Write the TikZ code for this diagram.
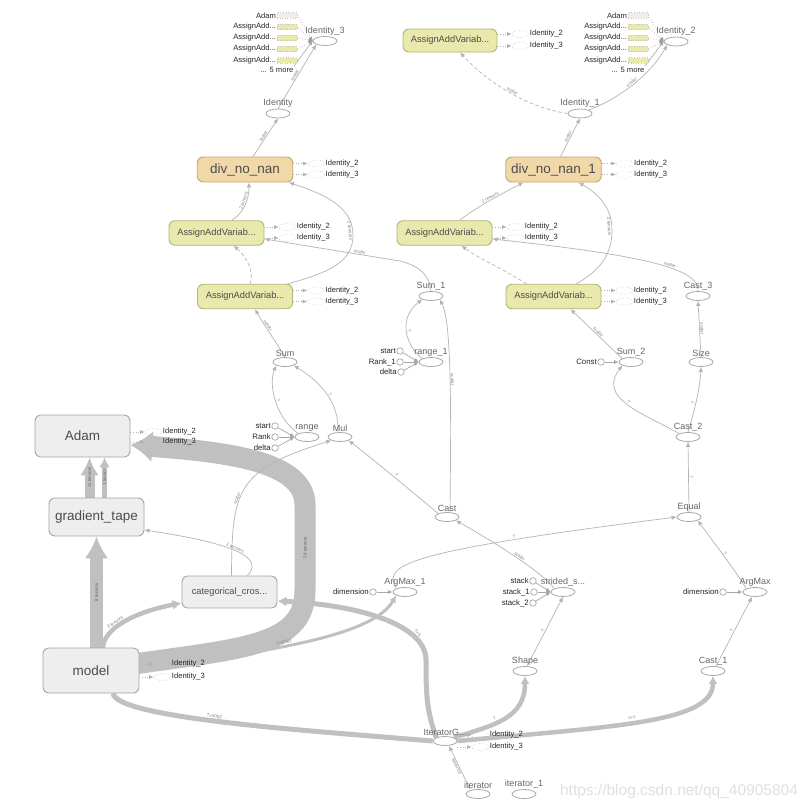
\documentclass[tikz,border=0pt]{standalone}
\usepackage{fontspec}
\setmainfont{Liberation Sans}
\usetikzlibrary{shapes.geometric,arrows.meta,backgrounds}
\definecolor{edgegray}{HTML}{B4B4B4}
\definecolor{bandgray}{HTML}{C0C0C0}
\definecolor{opline}{HTML}{A8A8A8}
\definecolor{boxfill}{HTML}{EEEEEE}
\definecolor{boxline}{HTML}{A6A6A6}
\definecolor{assignfill}{HTML}{E9E9AD}
\definecolor{assignline}{HTML}{B4B46E}
\definecolor{divfill}{HTML}{F1D8A8}
\definecolor{divline}{HTML}{C6A46E}
\definecolor{ghostline}{HTML}{C4C4C4}
\tikzset{
  op/.style={ellipse, draw=opline, fill=white, line width=0.8pt, minimum width=24pt, minimum height=9pt, inner sep=0pt, label distance=1.5pt},
  oplabel/.style={font=\fontsize{9}{10}\selectfont, text=black!60, inner sep=0.8pt},
  const/.style={circle, draw=opline, fill=white, line width=0.7pt, minimum size=6.5pt, inner sep=0pt},
  constlabel/.style={font=\fontsize{7.8}{9}\selectfont, text=black!85, inner sep=0.5pt},
  metabox/.style={draw=boxline, fill=boxfill, rounded corners=6pt, line width=0.9pt, inner sep=0pt, text=black!70},
  assignbox/.style={metabox, draw=assignline, fill=assignfill, minimum width=95pt, minimum height=24.5pt, font=\fontsize{9.3}{11}\selectfont},
  divbox/.style={metabox, draw=divline, fill=divfill, minimum width=95.5pt, minimum height=25pt, font=\fontsize{13.5}{15}\selectfont},
  bigbox/.style={metabox, minimum width=95pt, font=\fontsize{13.5}{15}\selectfont},
  ghostop/.style={ellipse, draw=ghostline, dotted, line width=0.6pt, minimum width=17pt, minimum height=7pt, inner sep=0pt, label distance=2.5pt},
  sidetext/.style={font=\fontsize{7.6}{9}\selectfont, text=black!85, inner sep=0.5pt},
  sideedge/.style={draw=ghostline!90!black, dotted, line width=0.6pt, -{Latex[length=4.5pt,width=4pt]}},
  refnode/.style={draw=ghostline, dotted, line width=0.6pt, minimum width=20pt, minimum height=5.5pt, inner sep=0pt, label distance=1pt},
  reftext/.style={font=\fontsize{7.6}{9}\selectfont, text=black!85, inner sep=0.5pt},
  refedge/.style={draw=ghostline!80!black, dotted, line width=0.6pt, -{Latex[length=4pt,width=4pt]}},
  moreedge/.style={draw=edgegray, line width=0.6pt},
  edge/.style={draw=edgegray, line width=0.7pt, -{Latex[length=5pt,width=4.5pt]}},
  ctrl/.style={edge, dash pattern=on 3.5pt off 2.5pt},
  inedge/.style={draw=opline, line width=0.7pt, -{Latex[length=4.5pt,width=4pt]}},
  band/.style={draw=bandgray, line cap=butt},
  elabel/.style={font=\fontsize{4.5}{5}\selectfont, text=black!50, sloped, above, inner sep=0.7pt},
  bandlabel/.style={font=\fontsize{4.5}{5}\selectfont, text=black!60, sloped, inner sep=0pt}
}
\begin{document}
\begin{tikzpicture}[x=1pt, y=-1pt]
\useasboundingbox (0,0) rectangle (810,809);

% operation nodes
\node[op, label={[oplabel]above:Identity\_3}] (id3) at (325,41) {};
\node[op, label={[oplabel]above:Identity}] (id) at (278,113.5) {};
\node[op, label={[oplabel]above:Identity\_2}] (id2) at (676,41.5) {};
\node[op, label={[oplabel]above:Identity\_1}] (id1) at (580,113.5) {};
\node[op, label={[oplabel]above:Sum\_1}] (sum1) at (431,296) {};
\node[op, label={[oplabel]above:range\_1}] (range1) at (431,362) {};
\node[op, label={[oplabel]above:Sum}] (sum) at (285,362) {};
\node[op, label={[oplabel]above:range}] (range) at (307,437) {};
\node[op, label={[oplabel]above:Mul}] (mul) at (340,437) {};
\node[op, label={[oplabel]above:Cast}] (cast) at (447,517) {};
\node[op, label={[oplabel]above:Sum\_2}] (sum2) at (631,362) {};
\node[op, label={[oplabel]above:Size}] (size) at (701,362) {};
\node[op, label={[oplabel]above:Cast\_3}] (cast3) at (698,296) {};
\node[op, label={[oplabel]above:Cast\_2}] (cast2) at (688,437) {};
\node[op, label={[oplabel]above:Equal}] (equal) at (689,517) {};
\node[op, label={[oplabel]above:ArgMax}] (argmax) at (755,592) {};
\node[op, label={[oplabel]above:ArgMax\_1}] (argmax1) at (405,592) {};
\node[op, label={[oplabel]above:strided\_s...}] (strided) at (563,592) {};
\node[op, label={[oplabel]above:Shape}] (shape) at (525,671) {};
\node[op, label={[oplabel]above:Cast\_1}] (cast1) at (713,671) {};
\node[op, label={[oplabel]above:IteratorG...}] (itg) at (445,741) {};
\node[op, label={[oplabel]above:iterator}] (iter) at (478,794) {};
\node[op, label={[oplabel]above:iterator\_1}] (iter1) at (524,794) {};

% constant inputs
\node[const, label={[constlabel]left:start}] (rstart) at (275,426) {};
\node[const, label={[constlabel]left:Rank}] (rrank) at (275,437) {};
\node[const, label={[constlabel]left:delta}] (rdelta) at (275,448) {};
\node[const, label={[constlabel]left:start}] (r1start) at (400,351) {};
\node[const, label={[constlabel]left:Rank\_1}] (r1rank) at (400,362) {};
\node[const, label={[constlabel]left:delta}] (r1delta) at (401,372) {};
\node[const, label={[constlabel]left:stack}] (sstack) at (533,581) {};
\node[const, label={[constlabel]left:stack\_1}] (sstack1) at (534,592) {};
\node[const, label={[constlabel]left:stack\_2}] (sstack2) at (533,603) {};
\node[const, label={[constlabel]left:Const}] (cconst) at (601,362) {};
\node[const, label={[constlabel]left:dimension}] (dim1) at (373,592) {};
\node[const, label={[constlabel]left:dimension}] (dim) at (723,592) {};

% name scopes
\node[divbox] (dnn) at (245,169.5) {div\_no\_nan};
\node[divbox] (dnn1) at (553.5,169.5) {div\_no\_nan\_1};
\node[assignbox] (aav1) at (216.5,233) {AssignAddVariab...};
\node[assignbox] (aav2) at (245,296.5) {AssignAddVariab...};
\node[assignbox] (aav3) at (444.5,233) {AssignAddVariab...};
\node[assignbox] (aav4) at (553.5,296.5) {AssignAddVariab...};
\node[assignbox, minimum height=23pt, minimum width=94pt] (aav5) at (450,40.5) {AssignAddVariab...};
\node[bigbox, minimum height=42pt] (adam) at (82.5,436) {Adam};
\node[bigbox, minimum height=38pt] (gtape) at (96.5,517) {gradient\_tape};
\node[bigbox, minimum height=45pt, minimum width=96pt] (model) at (91,670.5) {model};
\node[metabox, minimum width=95pt, minimum height=32pt, font=\fontsize{9.3}{11}\selectfont] (cce) at (229.5,592) {categorical\_cros...};

% Identity_2 / Identity_3 stubs beside the scopes
\foreach \b/\u/\v in {dnn/-6/5, dnn1/-6/5, aav1/-6/5, aav2/-6/5, aav3/-6/5, aav4/-6/5, aav5/-6.5/5.5, adam/-4/6, model/-6.5/6.5, itg/-6/6}{
  \node[ghostop, label={[sidetext]right:Identity\_2}] (\b-a) at ([shift={(23,\u)}]\b.east) {};
  \node[ghostop, label={[sidetext]right:Identity\_3}] (\b-b) at ([shift={(23,\v)}]\b.east) {};
}

% control inputs of Identity_3 and Identity_2
\foreach \c/\dx in {id3/0, id2/351}{
  \node[refnode, fill=boxfill, label={[reftext]left:Adam}] (\c-r0) at (287+\dx,15.5) {};
  \foreach \i/\y in {1/27, 2/38, 3/49, 4/60.5}
    \node[refnode, fill=assignfill, label={[reftext]left:AssignAdd...}] (\c-r\i) at (287+\dx,\y) {};
  \node[reftext, anchor=east] (\c-more) at (294+\dx,69.5) {... 5 more};
}

\node[font=\fontsize{15.5}{17}\selectfont, text=black!12] (mark) at (679,791) {https://blog.csdn.net/qq\_40905804};

\begin{scope}[on background layer]
\fill[white] (0,0) rectangle (810,809);

% heavy tensor bands
\draw[band, line width=21pt, -{Latex[length=22pt,width=32pt]}] (model.center) .. controls (230,648) and (305,652) .. (305,590) -- node[bandlabel]{24 tensors} (305,505) .. controls (305,462) and (230,452) .. ([yshift=-9]adam.east);
\draw[band, line width=13pt, -{Latex[length=22pt,width=24pt]}] ([xshift=5.5]model.north) -- node[bandlabel]{8 tensors} (gtape.south);
\draw[band, line width=10pt, -{Latex[length=18pt,width=19pt]}] ([xshift=-7]gtape.north) -- node[bandlabel]{11 tensors} ([xshift=7]adam.south);
\draw[band, line width=5pt, -{Latex[length=10pt,width=11pt]}] ([xshift=8]gtape.north) -- node[bandlabel]{1 tensor} ([xshift=22]adam.south);
\draw[band, line width=4.5pt, -{Latex[length=9pt,width=10pt]}] ([xshift=12]model.north) .. controls (104,628) and (135,612) .. node[elabel, pos=0.4]{3 tensors} ([yshift=-11]cce.west);
\draw[band, line width=3pt, -{Latex[length=7pt,width=7pt]}] (model.east) .. controls (250,652) and (370,640) .. node[elabel, pos=0.45]{?×5082} (argmax1.south west);
\draw[band, line width=5pt, -{Latex[length=9pt,width=10pt]}] (itg.north west) .. controls (426,710) and (426,690) .. (426,660) .. controls (426,625) and (360,605) .. node[elabel, pos=0.25]{?×5} ([yshift=-9]cce.east);
\draw[band, line width=5pt] (itg.west) .. controls (300,730) and (118,718) .. node[elabel, pos=0.53]{?×5082} ([xshift=22]model.south);
\draw[band, line width=4.5pt, -{Latex[length=8pt,width=9pt]}] (itg.north east) .. controls (495,725) and (525,718) .. node[elabel, pos=0.4]{?} (shape.south);
\draw[band, line width=4.5pt, -{Latex[length=8pt,width=9pt]}] (itg.east) .. controls (620,726) and (713,722) .. node[elabel, pos=0.45]{?×?} (cast1.south);

% data and control edges
\draw[edge] (id.north) -- node[elabel]{scalar} (id3.south west);
\draw[edge] ([xshift=8]dnn.north) -- node[elabel]{scalar} (id.south);
\draw[edge] ([xshift=15]aav1.north) .. controls (243,214) and (249,200) .. node[elabel, pos=0.6]{2 tensors} ([xshift=4]dnn.south);
\draw[ctrl] ([xshift=5]aav2.north) .. controls (255,272) and (246,256) .. ([xshift=17]aav1.south);
\draw[edge] ([xshift=43]aav2.north) .. controls (330,272) and (353,262) .. (353,235) .. controls (353,205) and (320,193) .. node[elabel, below, pos=0.05]{2 tensors} ([xshift=44]dnn.south);
\draw[edge] (sum1.north) .. controls (430,276) and (420,266) .. (400,261) -- node[elabel, pos=0.3]{scalar} ([yshift=-6]aav1.east);
\draw[edge] (sum.north) .. controls (278,345) and (264,325) .. node[elabel, pos=0.65]{scalar} ([xshift=10]aav2.south);
\draw[edge] (range.north west) .. controls (276,418) and (268,385) .. node[elabel]{?} (sum.south west);
\draw[edge] ([xshift=-2]mul.north) .. controls (339,405) and (325,385) .. node[elabel]{?} (sum.south east);
\draw[edge] (range1.north west) .. controls (405,345) and (398,318) .. node[elabel]{?} (sum1.south west);
\draw[edge] ([xshift=3]cast.north) .. controls (451,420) and (452,322) .. node[elabel]{scalar} (sum1.south east);
\draw[edge] (cast.north west) .. controls (410,490) and (380,465) .. node[elabel]{?} (mul.south east);
\draw[edge] ([xshift=2]cce.north) .. controls (232,490) and (236,470) .. node[elabel, pos=0.4]{scalar} (mul.south west);
\draw[edge] ([xshift=18]cce.north) .. controls (262,560) and (245,545) .. node[elabel, pos=0.55]{2 tensors} ([yshift=-13]gtape.east);
\draw[edge] (strided.north west) .. controls (545,575) and (500,545) .. node[elabel]{scalar} (cast.south east);
\draw[edge] (argmax1.north west) .. controls (383,565) and (400,552) .. node[elabel, pos=0.75]{?} (equal.west);
\draw[edge] ([xshift=2]shape.north) -- node[elabel]{?} (strided.south);
\draw[edge] ([xshift=3]cast1.north) -- node[elabel]{?} ([xshift=-3]argmax.south);
\draw[edge] (argmax.north west) .. controls (735,570) and (712,540) .. node[elabel]{?} (equal.south east);
\draw[edge] (equal.north) -- node[elabel]{?} (cast2.south);
\draw[edge] (cast2.north) .. controls (692,420) and (700,390) .. node[elabel]{?} (size.south);
\draw[edge] (cast2.north west) .. controls (640,412) and (598,398) .. node[elabel]{?} (sum2.south west);
\draw[edge] (size.north) -- node[elabel]{scalar} (cast3.south);
\draw[edge] (sum2.north west) -- node[elabel]{scalar} ([xshift=17]aav4.south);
\draw[edge] (cast3.north) .. controls (700,268) and (640,255) .. node[elabel, pos=0.4]{scalar} ([yshift=-6]aav3.east);
\draw[edge] ([xshift=15]aav3.north) .. controls (478,206) and (505,192) .. node[elabel]{2 tensors} ([xshift=-30]dnn1.south);
\draw[edge] ([xshift=23]aav4.north) .. controls (600,270) and (612,255) .. (612,230) .. controls (612,205) and (595,192) .. node[elabel, below, pos=0.05]{2 tensors} ([xshift=25]dnn1.south);
\draw[ctrl] ([xshift=-27]aav4.north) .. controls (505,270) and (478,258) .. ([xshift=17]aav3.south);
\draw[edge] ([xshift=7]dnn1.north) -- node[elabel]{scalar} (id1.south);
\draw[ctrl] (id1.west) .. controls (530,108) and (490,85) .. node[elabel]{scalar} ([xshift=10]aav5.south);
\draw[edge] (id1.north east) .. controls (620,98) and (650,75) .. node[elabel]{scalar} (id2.south west);
\draw[edge] ([xshift=-8]iter.north) -- node[elabel, below, pos=0.55]{resource} ([xshift=4]itg.south);

% constant inputs into their ops
\foreach \s in {rstart, rrank, rdelta} \draw[inedge] (\s) -- (range.west);
\foreach \s in {r1start, r1rank, r1delta} \draw[inedge] (\s) -- (range1.west);
\foreach \s in {sstack, sstack1, sstack2} \draw[inedge] (\s) -- (strided.west);
\draw[inedge] (cconst) -- (sum2.west);
\draw[inedge] (dim1) -- (argmax1.west);
\draw[inedge] (dim) -- (argmax.west);

% dotted stubs
\foreach \b in {dnn, dnn1, aav1, aav2, aav3, aav4, aav5, adam, model, itg}{
  \draw[sideedge] (\b.east |- \b-a) -- (\b-a);
  \draw[sideedge] (\b.east |- \b-b) -- (\b-b);
}
\foreach \c in {id3, id2}{
  \foreach \i in {0,...,4}
    \draw[refedge] (\c-r\i.east) -- (\c.west);
  \draw[moreedge] (\c-more.north east) -- (\c.west);
}
\end{scope}
\end{tikzpicture}
\end{document}
